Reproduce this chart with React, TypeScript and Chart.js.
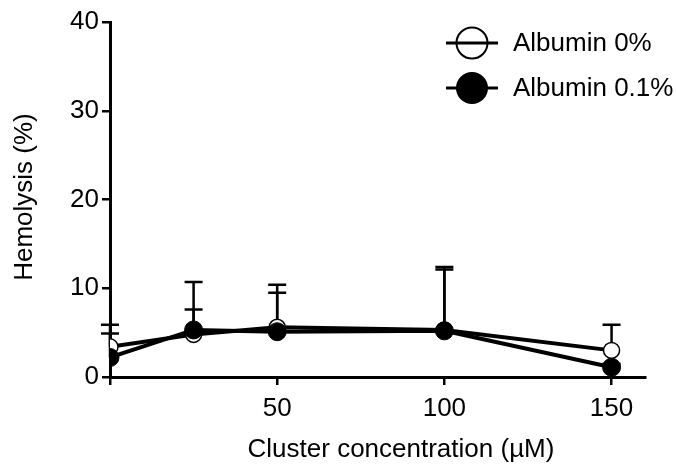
import React, { useEffect, useRef } from 'react';
import { Chart, registerables } from 'chart.js';

Chart.register(...registerables);

const concentrations = [0, 25, 50, 100, 150];
const albumin0 = [3.4, 4.8, 5.6, 5.3, 3.0];
const albumin0Err = [2.5, 5.9, 4.8, 7.1, 2.9];
const albumin01 = [2.2, 5.3, 5.1, 5.2, 1.1];
const albumin01Err = [2.7, 2.3, 4.4, 6.9, 0.4];
const xTicks = [0, 50, 100, 150];
const yTicks = [0, 10, 20, 30, 40];
const seriesLabels = ['Albumin 0%', 'Albumin 0.1%'];
const xTitle = 'Cluster concentration (µM)';
const yTitle = 'Hemolysis (%)';

const FONT = "'Liberation Sans', Arial, sans-serif";
const INK = '#000';

const errorsBySeries = [albumin0Err, albumin01Err];

const errorBarPlugin = {
  id: 'errorBars',
  beforeDatasetsDraw(chart: any) {
    const { ctx, scales } = chart;
    const xs = scales.x;
    const ys = scales.y;
    ctx.save();
    ctx.strokeStyle = INK;
    ctx.lineWidth = 2.5;
    chart.data.datasets.forEach((ds: any, di: number) => {
      const errs = errorsBySeries[di];
      ds.data.forEach((p: any, i: number) => {
        const e = errs[i];
        const px = xs.getPixelForValue(p.x);
        const py0 = ys.getPixelForValue(p.y);
        const py1 = ys.getPixelForValue(p.y + e);
        ctx.beginPath();
        ctx.moveTo(px, py0);
        ctx.lineTo(px, py1);
        ctx.moveTo(px - 9, py1);
        ctx.lineTo(px + 9, py1);
        ctx.stroke();
      });
    });
    ctx.restore();
  },
};

const decorPlugin = {
  id: 'decor',
  afterDraw(chart: any) {
    const { ctx } = chart;
    ctx.save();
    const rows = [
      { y: 43, filled: false, r: 15.5, label: seriesLabels[0] },
      { y: 88, filled: true, r: 16, label: seriesLabels[1] },
    ];
    rows.forEach((row) => {
      ctx.strokeStyle = INK;
      ctx.lineWidth = 3;
      ctx.beginPath();
      ctx.moveTo(446, row.y);
      ctx.lineTo(498, row.y);
      ctx.stroke();
      ctx.beginPath();
      ctx.arc(472, row.y, row.r, 0, Math.PI * 2);
      if (row.filled) {
        ctx.fillStyle = INK;
        ctx.fill();
      } else {
        ctx.lineWidth = 2;
        ctx.stroke();
      }
      ctx.fillStyle = INK;
      ctx.font = `26px ${FONT}`;
      ctx.textAlign = 'left';
      ctx.textBaseline = 'middle';
      ctx.fillText(row.label, 513, row.y + 1);
    });
    ctx.fillStyle = INK;
    ctx.font = `26px ${FONT}`;
    ctx.textAlign = 'center';
    ctx.textBaseline = 'middle';
    ctx.fillText(xTitle, 401, 450);
    ctx.save();
    ctx.translate(25, 197);
    ctx.rotate(-Math.PI / 2);
    ctx.fillText(yTitle, 0, 0);
    ctx.restore();
    ctx.restore();
  },
};

export default function App() {
  const canvasRef = useRef<HTMLCanvasElement | null>(null);

  useEffect(() => {
    const canvas = canvasRef.current;
    if (!canvas) return;
    const chart = new Chart(canvas, {
      type: 'line',
      data: {
        datasets: [
          {
            label: seriesLabels[0],
            data: concentrations.map((c, i) => ({ x: c, y: albumin0[i] })),
            borderColor: INK,
            borderWidth: 4,
            pointRadius: 8,
            pointBorderWidth: 1.5,
            pointBackgroundColor: '#fff',
            pointBorderColor: INK,
            tension: 0,
            order: 2,
          },
          {
            label: seriesLabels[1],
            data: concentrations.map((c, i) => ({ x: c, y: albumin01[i] })),
            borderColor: INK,
            borderWidth: 4,
            pointRadius: 9,
            pointBorderWidth: 1,
            pointBackgroundColor: INK,
            pointBorderColor: INK,
            tension: 0,
            order: 1,
          },
        ],
      },
      options: {
        responsive: false,
        animation: false,
        devicePixelRatio: 1,
        layout: { padding: { left: 0, top: 22, right: 31, bottom: 0 } },
        plugins: {
          legend: { display: false },
          tooltip: { enabled: false },
        },
        scales: {
          x: {
            type: 'linear',
            min: 0,
            max: 160,
            afterFit: (s: any) => {
              s.height = 95;
            },
            afterBuildTicks: (s: any) => {
              s.ticks = xTicks.map((v) => ({ value: v }));
            },
            ticks: {
              color: INK,
              font: { family: FONT, size: 26 },
              padding: 8,
              maxRotation: 0,
              autoSkip: false,
              callback: (v: any) => (v === 0 ? '' : String(v)),
            },
            grid: {
              display: true,
              drawOnChartArea: false,
              drawTicks: true,
              tickLength: 8,
              color: INK,
              lineWidth: 2.5,
            },
            border: { display: true, color: INK, width: 3 },
          },
          y: {
            type: 'linear',
            min: 0,
            max: 40,
            afterFit: (s: any) => {
              s.width = 110;
            },
            afterBuildTicks: (s: any) => {
              s.ticks = yTicks.map((v) => ({ value: v }));
            },
            ticks: {
              color: INK,
              font: { family: FONT, size: 26 },
              padding: 3,
              autoSkip: false,
            },
            grid: {
              display: true,
              drawOnChartArea: false,
              drawTicks: true,
              tickLength: 8,
              color: INK,
              lineWidth: 2.5,
            },
            border: { display: true, color: INK, width: 3 },
          },
        },
      },
      plugins: [errorBarPlugin, decorPlugin],
    } as any);
    return () => chart.destroy();
  }, []);

  return (
    <div style={{ position: 'fixed', left: 0, top: 0, width: 676, height: 472, background: '#fff' }}>
      <canvas ref={canvasRef} width={676} height={472} style={{ width: 676, height: 472 }} />
    </div>
  );
}
